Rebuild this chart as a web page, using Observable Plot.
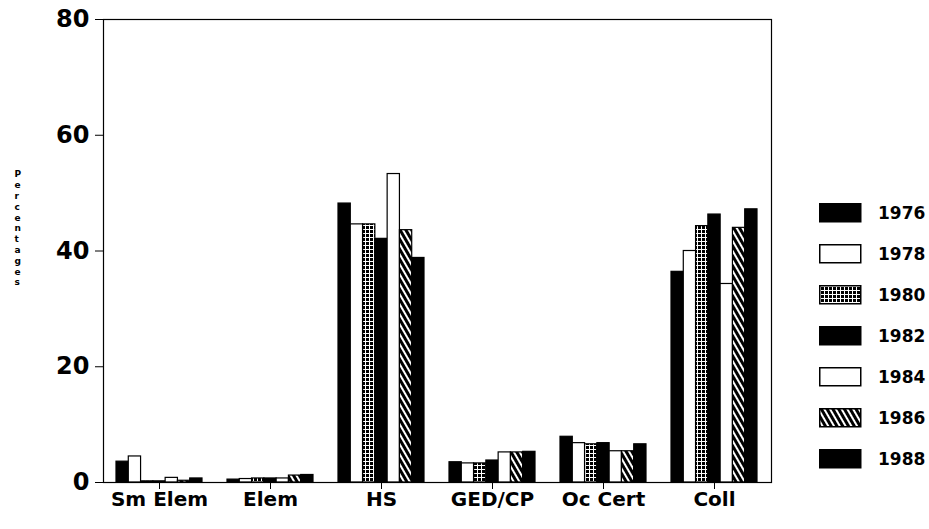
<!DOCTYPE html>
<html><head><meta charset="utf-8">
<script src="https://cdn.jsdelivr.net/npm/d3@7"></script>
<script src="https://cdn.jsdelivr.net/npm/@observablehq/plot@0.6"></script>
<style>
body{margin:0;background:#fff;font-family:"DejaVu Sans",sans-serif;}
#wrap{position:relative;width:929px;height:529px;}
#legend{position:absolute;left:819px;top:192px;}
.item{display:flex;align-items:center;height:41px;}
.item svg{display:block}
.item span{margin-left:16px;font-weight:bold;font-size:17px;color:#000;}
</style></head><body>
<svg width="0" height="0" style="position:absolute">
<defs>
<pattern id="pGrid" width="4" height="4" patternUnits="userSpaceOnUse">
 <rect width="4" height="4" fill="black"/>
 <path d="M0 1.5H4M1.5 0V4" stroke="white" stroke-width="1"/>
</pattern>
<pattern id="pDiag" width="5" height="5" patternUnits="userSpaceOnUse" patternTransform="rotate(-30)">
 <rect width="5" height="5" fill="white"/>
 <rect width="3" height="5" fill="black"/>
</pattern>
</defs>
</svg>
<div id="wrap"><div id="chart"></div><div id="legend"></div></div>
<script>
const categories = ["Sm Elem", "Elem", "HS", "GED/CP", "Oc Cert", "Coll"];
const years = ["1976", "1978", "1980", "1982", "1984", "1986", "1988"];
const v1976 = [3.6, 0.5, 48.2, 3.5, 7.9, 36.4];
const v1978 = [4.5, 0.6, 44.6, 3.3, 6.8, 40.0];
const v1980 = [0.2, 0.7, 44.6, 3.3, 6.6, 44.3];
const v1982 = [0.2, 0.7, 42.1, 3.8, 6.8, 46.3];
const v1984 = [0.8, 0.7, 53.3, 5.2, 5.4, 34.3];
const v1986 = [0.3, 1.2, 43.6, 5.2, 5.4, 44.0];
const v1988 = [0.7, 1.3, 38.8, 5.3, 6.6, 47.2];
const yTicks = [0, 20, 40, 60, 80];
const yLabel = "Percentages";

const series = [v1976, v1978, v1980, v1982, v1984, v1986, v1988];
const fills = ["black", "white", "url(#pGrid)", "black", "white", "url(#pDiag)", "black"];

const base = {
  width: 929, height: 529,
  marginLeft: 103, marginRight: 158, marginTop: 19, marginBottom: 47,
  x: {type: "band", domain: categories, paddingInner: 0.225, paddingOuter: 0.1125, axis: null},
  y: {domain: [0, 80], axis: null},
  style: {fontFamily: "DejaVu Sans", fontWeight: "bold", color: "black", background: "white"}
};

// first pass: read the band width from Plot's own x scale
const probe = Plot.plot({...base, marks: [Plot.barY(categories, {x: d => d, y: () => 1})]});
const bw = probe.scale("x").bandwidth;
const w = bw / years.length;

const rows = years.map((yr, i) => categories.map((c, j) => ({cat: c, year: yr, value: series[i][j]})));

const chart = Plot.plot({
  ...base,
  marks: [
    ...rows.map((r, i) => Plot.barY(r, {
      x: "cat", y: "value", fill: fills[i], stroke: "black", strokeWidth: 1.2,
      insetLeft: i * w, insetRight: (years.length - 1 - i) * w
    })),
    Plot.frame({stroke: "black", strokeWidth: 1.2}),
    Plot.axisY({ticks: yTicks, tickSize: 8, tickPadding: 6, fontSize: 24, fontWeight: "bold", label: null}),
    Plot.axisX({tickSize: 7, tickPadding: 2, fontSize: 20, fontWeight: "bold", label: null}),
    Plot.text([yLabel.split("").join("\n")], {
      frameAnchor: "left", dx: -89, dy: -23, fontSize: 9, lineHeight: 1.2, fontWeight: "bold"
    })
  ]
});
document.getElementById("chart").appendChild(chart);

const legend = document.getElementById("legend");
years.forEach((yr, i) => {
  const item = document.createElement("div");
  item.className = "item";
  item.innerHTML = `<svg width="43" height="20"><rect x="0.75" y="0.75" width="41" height="18" fill="${fills[i]}" stroke="black" stroke-width="1.5"/></svg><span>${yr}</span>`;
  legend.appendChild(item);
});
</script>
</body></html>
